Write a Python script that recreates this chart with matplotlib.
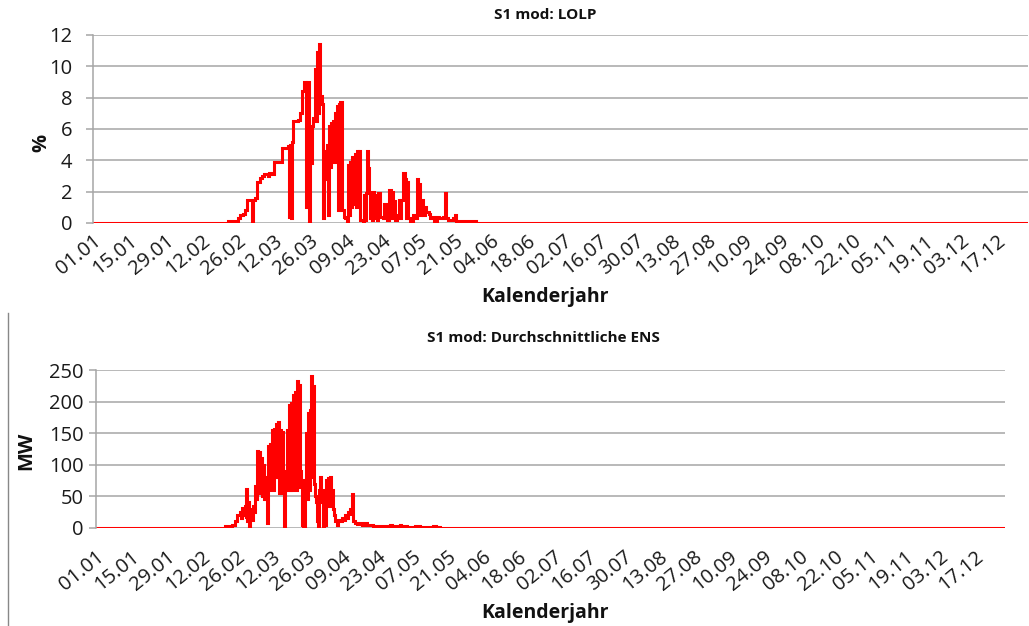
import matplotlib
matplotlib.use("Agg")
import matplotlib.pyplot as plt
from matplotlib.lines import Line2D

plt.rcParams['font.family'] = ['Open Sans', 'DejaVu Sans']

# ---------------- data ----------------
tick_labels = ["01.01", "15.01", "29.01", "12.02", "26.02", "12.03", "26.03", "09.04",
               "23.04", "07.05", "21.05", "04.06", "18.06", "02.07", "16.07", "30.07",
               "13.08", "27.08", "10.09", "24.09", "08.10", "22.10", "05.11", "19.11",
               "03.12", "17.12"]
tick_days = [14 * i for i in range(len(tick_labels))]

# LOLP in % (day of year, value)
lolp_days = [0, 52.3, 56.1, 57.0, 58.1, 58.9, 59.6, 61.6, 62.0, 62.6, 63.5, 64.7, 65.5, 66.2,
             67.8, 68.2, 69.0, 70.1, 73.2, 75.5, 75.8, 76.3, 76.6, 77.0, 77.4, 79.4, 80.1,
             80.9, 81.7, 82.5, 82.8, 83.5, 84.0, 84.4, 84.8, 85.2, 85.9, 86.3, 86.7, 87.2,
             87.6, 87.9, 88.6, 89.0, 89.4, 89.8, 90.2, 90.6, 90.9, 91.3, 91.6, 92.0, 92.4,
             92.9, 93.3, 93.7, 94.1, 94.5, 94.9, 95.2, 95.6, 96.4, 97.0, 97.6, 98.3, 98.7,
             99.1, 99.5, 100.0, 100.4, 100.9, 101.3, 101.8, 102.2, 102.6, 103.0, 103.4,
             104.5, 104.8, 105.3, 105.7, 106.1, 106.5, 106.9, 107.2, 107.6, 108.0, 108.4,
             108.8, 109.2, 109.9, 110.3, 111.1, 112.2, 112.6, 113.4, 114.0, 114.6, 115.2,
             115.6, 116.2, 116.9, 117.7, 118.3, 118.9, 119.3, 120.0, 120.8, 121.2, 121.6,
             122.1, 122.7, 124.0, 124.7, 125.3, 125.8, 126.2, 126.6, 127.0, 127.8, 128.4,
             129.0, 130.0, 130.5, 131.5, 132.0, 133.0, 134.0, 135.5, 136.3, 136.6, 137.5,
             139.5, 140.1, 140.5, 143.2, 143.5, 147.1, 148.3, 362]
lolp_vals = [0, 0.1, 0.3, 0.5, 0.6, 0.8, 1.5, 0.0, 1.5, 1.6, 2.6, 2.9, 3.0, 3.1,
             3.0, 3.2, 3.1, 3.9, 4.8, 4.9, 0.4, 5.0, 0.3, 5.2, 6.5, 6.6, 7.0,
             8.4, 9.0, 1.0, 9.0, 0.0, 6.1, 3.8, 6.2, 6.7, 9.8, 6.5, 10.9, 7.0,
             11.4, 8.1, 7.6, 0.3, 4.4, 2.8, 4.6, 5.0, 0.5, 6.2, 3.6, 6.4, 4.2,
             6.5, 3.9, 7.0, 4.0, 7.5, 0.8, 7.6, 7.7, 0.8, 0.4, 0.3, 0.0, 3.7,
             0.5, 3.9, 1.0, 4.2, 1.2, 4.4, 1.0, 4.6, 2.0, 4.6, 0.2,
             0.1, 1.8, 0.2, 1.9, 4.6, 3.5, 2.0, 0.3, 1.9, 0.2, 2.0,
             0.3, 1.8, 0.2, 1.9, 0.4, 0.3, 1.2, 0.5, 0.2, 2.1, 0.3,
             2.0, 1.4, 0.2, 0.5, 1.5, 0.3, 1.5, 3.2, 2.8, 0.3, 2.6,
             0.3, 0.1, 0.5, 0.3, 2.8, 1.5, 2.5, 0.5, 1.5, 0.5, 1.0,
             0.7, 0.6, 0.3, 0.4, 0.1, 0.4, 0.3, 0.4, 1.9, 0.3, 0.2,
             0.3, 0.5, 0.1, 0.1, 0.15, 0.1, 0.0, 0.0]

# Average ENS in MW (day of year, value)
ens_days = [0, 51.4, 52.6, 54.0, 55.0, 55.4, 56.3, 57.3, 57.8, 58.3, 58.8, 59.3, 59.6, 59.9,
            60.3, 60.5, 60.9, 61.3, 61.7, 62.1, 62.5, 62.9, 63.3, 63.7, 64.1, 64.5, 64.9,
            65.3, 65.7, 66.1, 66.5, 66.9, 67.3, 67.7, 68.1, 68.5, 68.9, 69.3, 69.7, 70.1,
            70.5, 70.9, 71.3, 71.7, 72.1, 72.5, 72.9, 73.3, 73.7, 74.1, 74.5, 74.9, 75.3,
            75.7, 76.1, 76.5, 76.9, 77.3, 77.7, 78.1, 78.5, 78.9, 79.3, 79.7, 80.1, 80.5,
            80.8, 81.2, 81.6, 82.0, 82.6, 83.2, 83.6, 84.0, 84.4, 84.8, 85.2, 85.6, 86.0,
            86.4, 86.8, 87.2, 87.6, 88.0, 88.4, 88.8, 89.2, 89.6, 90.0, 90.4, 90.8, 91.2,
            91.6, 92.0, 92.4, 92.8, 93.2, 93.6, 94.0, 94.4, 94.8, 95.2, 96.0, 96.5, 97.2,
            98.0, 98.6, 99.2, 99.8, 100.4, 101.0, 101.2, 101.6, 102.0, 102.4, 103.0, 104.0,
            105.1, 106.0, 107.0, 108.0, 110.3, 115.9, 117.0, 118.0, 121.1, 121.5, 123.9,
            127.0, 129.0, 134.2, 135.4, 137.0, 362]
ens_vals = [0, 2, 3, 5, 4, 10, 20, 25, 15, 32, 20, 35, 15, 61,
            10, 40, 3, 20, 30, 12, 35, 25, 66, 45, 122, 55, 120,
            60, 110, 50, 100, 45, 80, 45, 8, 130, 60, 133, 70, 155,
            60, 157, 80, 165, 80, 168, 55, 155, 55, 152, 60, 0, 60,
            90, 155, 60, 195, 60, 197, 60, 210, 65, 215, 60, 232, 65,
            226, 90, 75, 5, 0, 75, 150, 45, 182, 60, 187, 240, 80,
            225, 70, 50, 40, 10, 0, 60, 80, 40, 60, 0, 40, 5,
            75, 40, 78, 35, 80, 40, 60, 30, 20, 10, 5, 12, 10,
            15, 12, 20, 15, 25, 20, 30, 25, 53, 10, 8, 6,
            8, 5, 7, 5, 3, 2, 4, 2, 4, 2, 1.5,
            2.5, 1, 2.5, 1, 0, 0]

# ---------------- figure ----------------
W, H = 1029, 626
fig = plt.figure(figsize=(W / 100, H / 100), dpi=100)

def fx(px):
    return px / W

def fy(py):
    return 1 - py / H

grid_c = "#A6A6A6"
red = "#FF0000"
txt_c = "#1a1a1a"

ax1 = fig.add_axes([fx(93), fy(223), fx(1028 - 93), (223 - 35) / H])
ax2 = fig.add_axes([fx(96), fy(527.7), fx(1005 - 96), (527.7 - 370) / H])

for ax, d, v, yt, ymax, ypad, xpad in [
        (ax1, lolp_days, lolp_vals, range(0, 13, 2), 12, 10, 6),
        (ax2, ens_days, ens_vals, range(0, 251, 50), 250, 4, 14)]:
    ax.plot(d, v, color=red, lw=2.2, drawstyle="steps-post", solid_joinstyle="miter")
    ax.set_xlim(0, 362)
    ax.set_ylim(0, ymax)
    ax.set_yticks(list(yt))
    ax.set_xticks(tick_days)
    ax.set_xticklabels(tick_labels, rotation=39, ha="right", va="top",
                       rotation_mode="anchor", fontsize=14.5, color=txt_c)
    ax.tick_params(axis="x", length=0, pad=xpad)
    ax.tick_params(axis="y", length=5, width=1.1, color=grid_c, labelsize=14.5,
                   pad=ypad, labelcolor=txt_c)
    ax.grid(axis="y", color=grid_c, lw=1.1)
    ax.set_axisbelow(True)
    for s in ["top", "right", "bottom"]:
        ax.spines[s].set_visible(False)
    ax.spines["left"].set_color(grid_c)
    ax.spines["left"].set_linewidth(1.1)
    ax.patch.set_alpha(0)

fig.text(fx(41), fy(143), "%", rotation=90, ha="center", va="center",
         fontsize=14.5, fontweight="bold", color="#111111")
fig.text(fx(26), fy(451), "MW", rotation=90, ha="center", va="center",
         fontsize=14.5, fontweight="bold", color="#111111")

fig.text(fx(545), fy(15), "S1 mod: LOLP", ha="center", va="center",
         fontsize=11, fontweight="bold", color="#111111")
fig.text(fx(545), fy(297), "Kalenderjahr", ha="center", va="center",
         fontsize=14, fontweight="bold", color="#111111")
fig.text(fx(543), fy(338), "S1 mod: Durchschnittliche ENS", ha="center", va="center",
         fontsize=11, fontweight="bold", color="#111111")
fig.text(fx(545), fy(613), "Kalenderjahr", ha="center", va="center",
         fontsize=14, fontweight="bold", color="#111111")

fig.add_artist(Line2D([fx(8), fx(8)], [fy(313), fy(626)], color="#888888", lw=1.0))

fig.savefig("out.png", dpi=100)
